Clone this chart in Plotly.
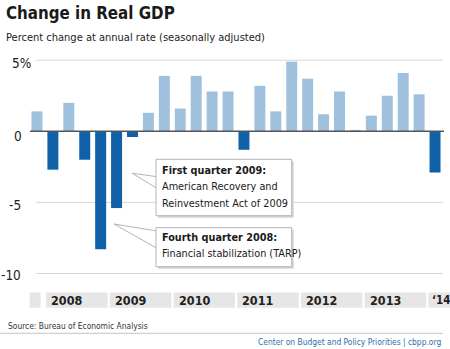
import plotly.graph_objects as go

# ---- data ----
quarters = ["2007Q4",
            "2008Q1", "2008Q2", "2008Q3", "2008Q4",
            "2009Q1", "2009Q2", "2009Q3", "2009Q4",
            "2010Q1", "2010Q2", "2010Q3", "2010Q4",
            "2011Q1", "2011Q2", "2011Q3", "2011Q4",
            "2012Q1", "2012Q2", "2012Q3", "2012Q4",
            "2013Q1", "2013Q2", "2013Q3", "2013Q4",
            "2014Q1"]
gdp_change = [1.4,
              -2.7, 2.0, -2.0, -8.3,
              -5.4, -0.4, 1.3, 3.9,
              1.6, 3.9, 2.8, 2.8,
              -1.3, 3.2, 1.4, 4.9,
              3.7, 1.2, 2.8, 0.1,
              1.1, 2.5, 4.1, 2.6,
              -2.9]
year_labels = ["", "2008", "2009", "2010", "2011", "2012", "2013", "\u201814"]
year_first_index = [0, 1, 5, 9, 13, 17, 21, 25]
ytick_vals = [5, 0, -5, -10]
ytick_text = ["5%", "0", "-5", "-10"]

FONT = "DejaVu Sans Condensed, Liberation Sans Narrow, Arial Narrow, sans-serif"
LIGHT = "#9fc1de"
DARK = "#1161a8"

W, H = 450, 349
ML, MR, MT, MB = 29, 7, 46, 40
PW = W - ML - MR
PH = H - MT - MB
NCAT = len(quarters)


def px(x):
    return (x - ML) / PW


def py(y):
    return (H - MB - y) / PH


def cat_px(c):
    return ML + (c + 0.5) * PW / NCAT


colors = [LIGHT if v >= 0 else DARK for v in gdp_change]

fig = go.Figure()
fig.add_trace(go.Bar(x=quarters, y=gdp_change, marker=dict(color=colors, line=dict(width=0)),
                     width=0.69, hoverinfo="x+y"))

shapes = []
annotations = []

# gridlines
for v in ytick_vals:
    if v == 0:
        continue
    shapes.append(dict(type="line", xref="paper", yref="y", x0=px(36), x1=px(443), y0=v, y1=v,
                       line=dict(color="#d6d6d6", width=1), layer="below"))
# zero line
shapes.append(dict(type="line", xref="paper", yref="y", x0=px(30), x1=px(444), y0=0, y1=0,
                   line=dict(color="#555555", width=1.5), layer="above"))

# y tick labels
ytick_right = [33, 24, 23, 23]
ytick_offset = [3, 4.5, 2.2, 2]
for v, t, xr, off in zip(ytick_vals, ytick_text, ytick_right, ytick_offset):
    yy = 131.3 - v * (PH / 18.5) + off
    annotations.append(dict(xref="paper", yref="paper", x=px(xr), y=py(yy), text=t, showarrow=False,
                            xanchor="right", yanchor="middle", font=dict(family=FONT, size=13.5, color="#222")))

# year bands
band_y0, band_y1 = 292.5, 307.7
for i, (lab, k) in enumerate(zip(year_labels, year_first_index)):
    size = 12.5
    pad = 3
    if i == 0:
        x0p, x1p = cat_px(k - 0.46), cat_px(k + 0.23)
    elif i == len(year_labels) - 1:
        x0p, x1p = cat_px(k - 0.42), 450
        size = 11.5
        pad = 1.5
    else:
        x0p, x1p = cat_px(k - 0.42), cat_px(k + 3.44)
    shapes.append(dict(type="rect", xref="paper", yref="paper", x0=px(x0p), x1=px(x1p),
                       y0=py(band_y1), y1=py(band_y0), fillcolor="#e6e6e6", line=dict(width=0)))
    if lab:
        annotations.append(dict(xref="paper", yref="paper", x=px(x0p + pad), y=py(300.3),
                                text="<b>%s</b>" % lab, showarrow=False, xanchor="left", yanchor="middle",
                                font=dict(family=FONT, size=size, color="#222")))


def callout(tip, e0, e1, box, lines):
    # pointer wedge
    pts = [(px(tip[0]), py(tip[1])), (px(box[0] + 1), py(e0)), (px(box[0] + 1), py(e1))]
    d = "M %f,%f L %f,%f L %f,%f Z" % (pts[0][0], pts[0][1], pts[1][0], pts[1][1], pts[2][0], pts[2][1])
    shapes.append(dict(type="path", xref="paper", yref="paper", path=d, fillcolor="white",
                       line=dict(color="#b5b5b5", width=1), layer="above"))
    # shadow
    shapes.append(dict(type="rect", xref="paper", yref="paper", x0=px(box[0] + 2), x1=px(box[2] + 2),
                       y0=py(box[3] + 2), y1=py(box[1] + 2), fillcolor="#d4d4d4", line=dict(width=0),
                       layer="above"))
    # box
    shapes.append(dict(type="rect", xref="paper", yref="paper", x0=px(box[0]), x1=px(box[2]),
                       y0=py(box[3]), y1=py(box[1]), fillcolor="white",
                       line=dict(color="#b5b5b5", width=1), layer="above"))
    for txt, yc, bold in lines:
        annotations.append(dict(xref="paper", yref="paper", x=px(box[0] + 4), y=py(yc),
                                text=("<b>%s</b>" % txt) if bold else txt, showarrow=False,
                                xanchor="left", yanchor="middle",
                                font=dict(family=FONT, size=10.8, color="#1a1a1a")))


callout((132.3, 173.3), 176.7, 188.3, (156, 159.3, 291.7, 215.7),
        [("First quarter 2009:", 170.5, True), ("American Recovery and", 186.7, False),
         ("Reinvestment Act of 2009", 203.2, False)])
callout((114, 224), 231, 248.3, (156, 227.7, 291.7, 266.7),
        [("Fourth quarter 2008:", 237.7, True), ("Financial stabilization (TARP)", 253.2, False)])

# titles
annotations.append(dict(xref="paper", yref="paper", x=px(4), y=py(13), text="<b>Change in Real GDP</b>",
                        showarrow=False, xanchor="left", yanchor="middle",
                        font=dict(family=FONT, size=16.8, color="#1a1a1a")))
annotations.append(dict(xref="paper", yref="paper", x=px(4), y=py(38),
                        text="Percent change at annual rate (seasonally adjusted)",
                        showarrow=False, xanchor="left", yanchor="middle",
                        font=dict(family=FONT, size=11, color="#222")))
# footer
annotations.append(dict(xref="paper", yref="paper", x=px(6), y=py(325.5),
                        text="Source: Bureau of Economic Analysis",
                        showarrow=False, xanchor="left", yanchor="middle",
                        font=dict(family=FONT, size=8.4, color="#333")))
shapes.append(dict(type="line", xref="paper", yref="paper", x0=px(0), x1=px(443), y0=py(333.3), y1=py(333.3),
                   line=dict(color="#c4c4c4", width=1)))
annotations.append(dict(xref="paper", yref="paper", x=px(443), y=py(342),
                        text="Center on Budget and Policy Priorities | cbpp.org",
                        showarrow=False, xanchor="right", yanchor="middle",
                        font=dict(family=FONT, size=8.4, color="#2f6da8")))

fig.update_layout(
    width=W, height=H,
    margin=dict(l=ML, r=MR, t=MT, b=MB, pad=0),
    paper_bgcolor="white", plot_bgcolor="white",
    showlegend=False,
    bargap=0.31,
    xaxis=dict(range=[-0.5, 25.5], showticklabels=False, showgrid=False, zeroline=False,
               showline=False, ticks="", fixedrange=True),
    yaxis=dict(range=[-12.5, 6], showticklabels=False, showgrid=False, zeroline=False,
               showline=False, ticks="", fixedrange=True),
    shapes=shapes,
    annotations=annotations,
)

fig.write_html("out.html", config={"displayModeBar": False})
